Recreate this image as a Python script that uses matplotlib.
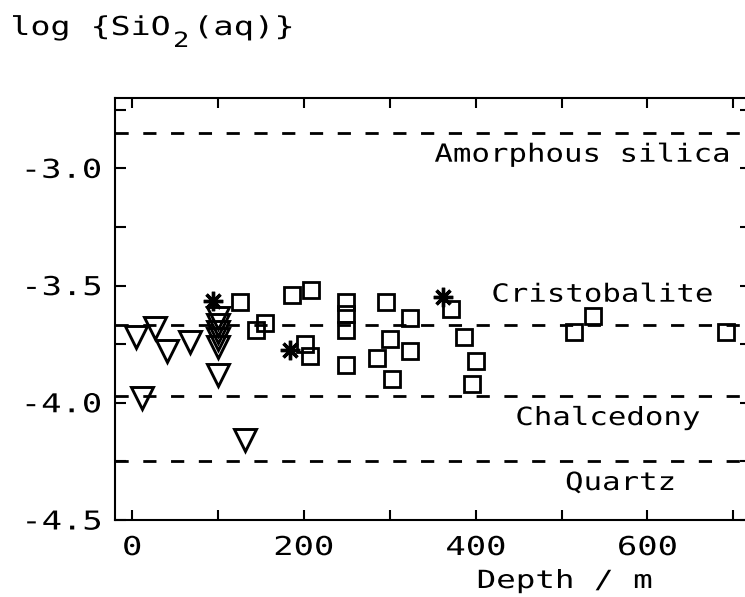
import matplotlib
matplotlib.use("Agg")
import matplotlib.pyplot as plt
from matplotlib.transforms import Affine2D
from matplotlib.textpath import TextPath
from matplotlib.patches import PathPatch
from matplotlib.font_manager import FontProperties

# --- data ---
# open triangles
tri_depth = [5, 26, 41, 67, 100, 12, 131, 100, 100, 100, 100, 100]
tri_logsi = [-3.72, -3.68, -3.78, -3.74, -3.88, -3.98, -4.16, -3.64, -3.67, -3.70, -3.73, -3.76]

# open squares
sq_depth = [125, 144, 155, 186, 208, 201, 207, 249, 249, 249, 249, 295,
            323, 300, 285, 324, 303, 371, 386, 400, 396, 514, 537, 691]
sq_logsi = [-3.57, -3.69, -3.66, -3.54, -3.52, -3.75, -3.80, -3.57, -3.62, -3.69, -3.84, -3.57,
            -3.64, -3.73, -3.81, -3.78, -3.90, -3.60, -3.72, -3.82, -3.92, -3.70, -3.63, -3.70]

# asterisks
star_depth = [94, 184, 362]
star_logsi = [-3.565, -3.775, -3.548]

# solubility lines of the silica phases
phase_names = ["Amorphous silica", "Cristobalite", "Chalcedony", "Quartz"]
phase_logsi = [-2.85, -3.67, -3.97, -4.25]

x_major = [0, 200, 400, 600]
x_labels = ['0', '200', '400', '600']
y_major = [-4.5, -4.0, -3.5, -3.0]
y_labels = ['-4.5', '-4.0', '-3.5', '-3.0']

W, H = 745, 597
plt.rcParams['lines.scale_dashes'] = False
mono = FontProperties(family='DejaVu Sans Mono')

fig = plt.figure(figsize=(W / 100, H / 100), dpi=100)
# right edge of the frame falls just off the canvas, as in the reference
ax = fig.add_axes([115 / W, 77 / H, (750.5 - 115) / W, 422 / H])


def plot_text(x, y, s, ha='left', size=25, stretch=1.23, data=False, dx=0, dy=0):
    # plotter lettering: wide mono glyphs, drawn as paths stretched sideways.
    # x, y are pixels from the top-left corner, or data coords if data=True
    if data:
        px, py = ax.transData.transform((x, y))
    else:
        px, py = x, H - y
    tp = TextPath((0, 0), s, size=size, prop=mono)
    bb = tp.get_extents()
    if ha == 'center':
        shift = -(bb.x0 + bb.x1) / 2 * stretch
    elif ha == 'right':
        shift = -bb.x1 * stretch
    else:
        shift = -bb.x0 * stretch
    tr = Affine2D().scale(stretch, 1).translate(px + shift + dx, py + dy)
    fig.add_artist(PathPatch(tp, transform=tr, fc='black', ec='none', lw=0))


for y in phase_logsi:
    ax.axhline(y, color='black', lw=2, dashes=(9.5, 10.5), zorder=1)

ax.plot(tri_depth, tri_logsi, ls='none', marker='v', ms=16, mfc='none', mec='black', mew=2.1)
ax.plot(sq_depth, sq_logsi, ls='none', marker='s', ms=12, mfc='none', mec='black', mew=2.0)
ax.plot(star_depth, star_logsi, ls='none', marker=(8, 2, 0), ms=14, mec='black', mew=2.4)

ax.set_xlim(-20, 720)
ax.set_ylim(-4.5, -2.7)
ax.set_xticks(x_major)
ax.set_xticks([100, 300, 500, 700], minor=True)
ax.set_yticks(y_major)
ax.set_yticks([-4.25, -3.75, -3.25, -2.75], minor=True)
ax.tick_params(which='both', direction='in', top=True, right=True, width=1.5, length=7,
               labelbottom=False, labelleft=False)
ax.tick_params(axis='y', which='both', length=8)
for sp in ax.spines.values():
    sp.set_linewidth(1.5)

# tick labels
for v, lab in zip(x_major, x_labels):
    plot_text(v, -4.5, lab, ha='center', size=26, stretch=1.3, data=True, dy=-35)
for v, lab in zip(y_major, y_labels):
    plot_text(-20, v, lab, ha='right', size=26, stretch=1.3, data=True, dx=-15, dy=-9.5)

# phase names (x / baseline in pixels)
plot_text(728, 161.7, phase_names[0], ha='right')
plot_text(602.5, 301.7, phase_names[1], ha='center')
plot_text(608.3, 425, phase_names[2], ha='center')
plot_text(620, 490, phase_names[3], ha='center')

# axis titles
plot_text(13, 35, 'log {SiO', size=26, stretch=1.28)
plot_text(175, 47, '2', size=21, stretch=1.3)
plot_text(200, 35, '(aq)}', size=26, stretch=1.3)
plot_text(565, 588, 'Depth / m', ha='center', size=25, stretch=1.3)

fig.savefig('out.png', dpi=100)
